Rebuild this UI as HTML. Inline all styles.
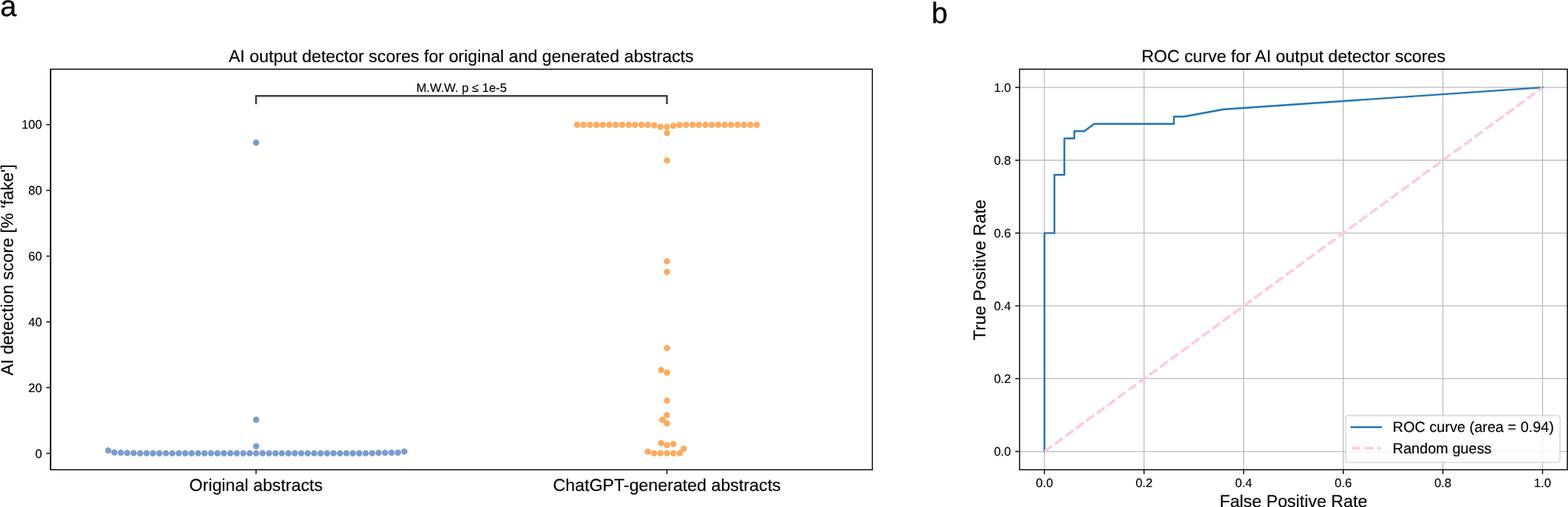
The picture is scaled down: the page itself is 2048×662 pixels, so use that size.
<!DOCTYPE html>
<html lang="en"><head><meta charset="utf-8"><title>AI output detector scores</title>
<style>
html,body{margin:0;padding:0;background:#fff;}
body{width:2048px;height:662px;overflow:hidden;}
svg{display:block;}
text{font-family:"Liberation Sans",Arial,Helvetica,sans-serif;fill:#000;text-rendering:geometricPrecision;}
.t10{font-size:16px;stroke:#000;stroke-width:0.15px;}.t12{font-size:19.2px;stroke:#000;stroke-width:0.15px;}.t14{font-size:22.4px;stroke:#000;stroke-width:0.15px;}.t24{font-size:38.4px;stroke:#000;stroke-width:0.3px;}
.sp{fill:none;stroke:#000;stroke-width:1.4;stroke-linecap:square;stroke-linejoin:miter;}
.tk{stroke:#000;stroke-width:1.4;fill:none;}
.gr{stroke:#bebebe;stroke-width:1.280;fill:none;}
.b{fill:#4172b9;fill-opacity:0.7;}.o{fill:#ff861a;fill-opacity:0.7;}
</style></head><body>
<svg width="2048" height="662" viewBox="0 0 2048 662" role="img" aria-label="Detector score swarm plot and ROC curve">
<rect x="0" y="0" width="2048" height="662" fill="#fff"/>
<text class="t24" x="0.3" y="21.2">a</text>
<text class="t24" x="1216.4" y="29.9">b</text>
<defs><radialGradient id="gb" cx="0.5" cy="0.5" r="0.5"><stop offset="0" stop-color="#4172b9" stop-opacity="0.7"/><stop offset="0.78" stop-color="#4172b9" stop-opacity="0.7"/><stop offset="1" stop-color="#4172b9" stop-opacity="0"/></radialGradient><radialGradient id="go" cx="0.5" cy="0.5" r="0.5"><stop offset="0" stop-color="#ff861a" stop-opacity="0.7"/><stop offset="0.78" stop-color="#ff861a" stop-opacity="0.7"/><stop offset="1" stop-color="#ff861a" stop-opacity="0"/></radialGradient></defs>
<g fill="url(#gb)">
<circle cx="149.29" cy="590.80" r="4.60"/>
<circle cx="157.71" cy="591.10" r="4.60"/>
<circle cx="166.13" cy="591.40" r="4.60"/>
<circle cx="174.55" cy="591.55" r="4.60"/>
<circle cx="182.97" cy="591.82" r="4.60"/>
<circle cx="191.39" cy="591.82" r="4.60"/>
<circle cx="199.81" cy="591.82" r="4.60"/>
<circle cx="208.23" cy="591.82" r="4.60"/>
<circle cx="216.65" cy="591.82" r="4.60"/>
<circle cx="225.07" cy="591.82" r="4.60"/>
<circle cx="233.49" cy="591.82" r="4.60"/>
<circle cx="241.91" cy="591.82" r="4.60"/>
<circle cx="250.33" cy="591.82" r="4.60"/>
<circle cx="258.75" cy="591.82" r="4.60"/>
<circle cx="267.17" cy="591.82" r="4.60"/>
<circle cx="275.59" cy="591.82" r="4.60"/>
<circle cx="284.01" cy="591.82" r="4.60"/>
<circle cx="292.43" cy="591.82" r="4.60"/>
<circle cx="300.85" cy="591.82" r="4.60"/>
<circle cx="309.27" cy="591.82" r="4.60"/>
<circle cx="317.69" cy="591.82" r="4.60"/>
<circle cx="326.11" cy="591.82" r="4.60"/>
<circle cx="334.53" cy="591.82" r="4.60"/>
<circle cx="342.95" cy="591.82" r="4.60"/>
<circle cx="351.37" cy="591.82" r="4.60"/>
<circle cx="359.79" cy="591.82" r="4.60"/>
<circle cx="368.21" cy="591.82" r="4.60"/>
<circle cx="376.63" cy="591.82" r="4.60"/>
<circle cx="385.05" cy="591.82" r="4.60"/>
<circle cx="393.47" cy="591.82" r="4.60"/>
<circle cx="401.89" cy="591.82" r="4.60"/>
<circle cx="410.31" cy="591.82" r="4.60"/>
<circle cx="418.73" cy="591.82" r="4.60"/>
<circle cx="427.15" cy="591.82" r="4.60"/>
<circle cx="435.57" cy="591.82" r="4.60"/>
<circle cx="443.99" cy="591.82" r="4.60"/>
<circle cx="452.41" cy="591.82" r="4.60"/>
<circle cx="460.83" cy="591.82" r="4.60"/>
<circle cx="469.25" cy="591.82" r="4.60"/>
<circle cx="477.67" cy="591.82" r="4.60"/>
<circle cx="486.09" cy="591.70" r="4.60"/>
<circle cx="494.51" cy="591.28" r="4.60"/>
<circle cx="502.93" cy="591.22" r="4.60"/>
<circle cx="511.35" cy="591.10" r="4.60"/>
<circle cx="519.77" cy="590.98" r="4.60"/>
<circle cx="141.34" cy="588.20" r="4.60"/>
<circle cx="528.14" cy="589.59" r="4.60"/>
<circle cx="334.53" cy="582.65" r="4.60"/>
<circle cx="334.53" cy="547.95" r="4.60"/>
<circle cx="334.53" cy="186.25" r="4.60"/>
</g>
<g fill="url(#go)">
<circle cx="753.70" cy="162.95" r="4.60"/>
<circle cx="762.12" cy="162.95" r="4.60"/>
<circle cx="770.54" cy="162.95" r="4.60"/>
<circle cx="778.95" cy="162.95" r="4.60"/>
<circle cx="787.37" cy="162.95" r="4.60"/>
<circle cx="795.79" cy="162.95" r="4.60"/>
<circle cx="804.21" cy="162.95" r="4.60"/>
<circle cx="812.63" cy="162.95" r="4.60"/>
<circle cx="821.05" cy="162.95" r="4.60"/>
<circle cx="829.46" cy="162.95" r="4.60"/>
<circle cx="837.88" cy="162.95" r="4.60"/>
<circle cx="846.30" cy="163.05" r="4.60"/>
<circle cx="854.60" cy="163.65" r="4.60"/>
<circle cx="862.76" cy="165.59" r="4.60"/>
<circle cx="871.10" cy="165.65" r="4.60"/>
<circle cx="879.50" cy="164.35" r="4.60"/>
<circle cx="887.70" cy="163.15" r="4.60"/>
<circle cx="896.10" cy="162.95" r="4.60"/>
<circle cx="904.50" cy="162.95" r="4.60"/>
<circle cx="912.90" cy="162.95" r="4.60"/>
<circle cx="921.30" cy="162.95" r="4.60"/>
<circle cx="929.70" cy="162.95" r="4.60"/>
<circle cx="938.10" cy="162.95" r="4.60"/>
<circle cx="946.50" cy="162.95" r="4.60"/>
<circle cx="954.90" cy="162.95" r="4.60"/>
<circle cx="963.30" cy="162.95" r="4.60"/>
<circle cx="971.70" cy="162.95" r="4.60"/>
<circle cx="980.10" cy="162.95" r="4.60"/>
<circle cx="988.50" cy="162.95" r="4.60"/>
<circle cx="871.18" cy="173.75" r="4.60"/>
<circle cx="871.18" cy="209.55" r="4.60"/>
<circle cx="871.18" cy="341.10" r="4.60"/>
<circle cx="871.18" cy="355.05" r="4.60"/>
<circle cx="871.18" cy="454.50" r="4.60"/>
<circle cx="863.60" cy="483.25" r="4.60"/>
<circle cx="871.18" cy="486.40" r="4.60"/>
<circle cx="871.18" cy="523.25" r="4.60"/>
<circle cx="871.18" cy="542.05" r="4.60"/>
<circle cx="865.06" cy="548.05" r="4.60"/>
<circle cx="871.18" cy="552.95" r="4.60"/>
<circle cx="863.40" cy="578.55" r="4.60"/>
<circle cx="871.18" cy="581.25" r="4.60"/>
<circle cx="879.50" cy="579.75" r="4.60"/>
<circle cx="893.10" cy="585.85" r="4.60"/>
<circle cx="846.20" cy="589.80" r="4.60"/>
<circle cx="854.36" cy="591.85" r="4.60"/>
<circle cx="862.60" cy="591.85" r="4.60"/>
<circle cx="871.18" cy="591.85" r="4.60"/>
<circle cx="879.50" cy="591.85" r="4.60"/>
<circle cx="887.90" cy="591.65" r="4.60"/>
</g>
<line class="tk" x1="60.50" y1="592.00" x2="66.10" y2="592.00"/>
<text class="t10" text-anchor="end" x="54.90" y="597.70">0</text>
<line class="tk" x1="60.50" y1="506.14" x2="66.10" y2="506.14"/>
<text class="t10" text-anchor="end" x="54.90" y="511.84">20</text>
<line class="tk" x1="60.50" y1="420.29" x2="66.10" y2="420.29"/>
<text class="t10" text-anchor="end" x="54.90" y="425.99">40</text>
<line class="tk" x1="60.50" y1="334.43" x2="66.10" y2="334.43"/>
<text class="t10" text-anchor="end" x="54.90" y="340.13">60</text>
<line class="tk" x1="60.50" y1="248.58" x2="66.10" y2="248.58"/>
<text class="t10" text-anchor="end" x="54.90" y="254.28">80</text>
<line class="tk" x1="60.50" y1="162.72" x2="66.10" y2="162.72"/>
<text class="t10" text-anchor="end" x="54.90" y="168.42">100</text>
<line class="tk" x1="334.43" y1="613.36" x2="334.43" y2="618.96"/>
<text class="t14" text-anchor="middle" x="334.43" y="640.55">Original abstracts</text>
<line class="tk" x1="871.08" y1="613.36" x2="871.08" y2="618.96"/>
<text class="t14" text-anchor="middle" x="871.08" y="640.55">ChatGPT-generated abstracts</text>
<rect class="sp" x="66.10" y="90.36" width="1073.30" height="523.00"/>
<line x1="66.18" y1="90.36" x2="66.18" y2="613.36" stroke="#000" stroke-width="1.65"/>
<path d="M334.43 135.90 V125.20 H871.08 V135.90" fill="none" stroke="#454545" stroke-width="2.5" stroke-linejoin="round" stroke-linecap="butt"/>
<text class="t10" text-anchor="middle" x="602.75" y="120.35">M.W.W. p ≤ 1e-5</text>
<text class="t14" text-anchor="middle" x="602.35" y="80.80">AI output detector scores for original and generated abstracts</text>
<text class="t14" text-anchor="middle" transform="translate(17.10 352.46) rotate(-90)" letter-spacing="0.03">AI detection score [% 'fake']</text>
<g class="gr">
<line x1="1364.18" y1="90.36" x2="1364.18" y2="613.36"/>
<line x1="1331.65" y1="589.52" x2="2047.20" y2="589.52"/>
<line x1="1494.28" y1="90.36" x2="1494.28" y2="613.36"/>
<line x1="1331.65" y1="494.46" x2="2047.20" y2="494.46"/>
<line x1="1624.38" y1="90.36" x2="1624.38" y2="613.36"/>
<line x1="1331.65" y1="399.39" x2="2047.20" y2="399.39"/>
<line x1="1754.47" y1="90.36" x2="1754.47" y2="613.36"/>
<line x1="1331.65" y1="304.33" x2="2047.20" y2="304.33"/>
<line x1="1884.58" y1="90.36" x2="1884.58" y2="613.36"/>
<line x1="1331.65" y1="209.26" x2="2047.20" y2="209.26"/>
<line x1="2014.68" y1="90.36" x2="2014.68" y2="613.36"/>
<line x1="1331.65" y1="114.20" x2="2047.20" y2="114.20"/>
</g>
<path d="M1364.18 589.52 L1364.18 304.33 L1377.19 304.33 L1377.19 228.28 L1390.20 228.28 L1390.20 180.74 L1403.21 180.74 L1403.21 171.24 L1416.22 171.24 L1429.23 161.73 L1533.31 161.73 L1533.31 152.23 L1546.32 152.23 L1598.36 142.72 L2014.68 114.20" fill="none" stroke="#2677b6" stroke-width="2.4" stroke-linejoin="round" stroke-linecap="square"/>
<line x1="1364.18" y1="589.62" x2="2014.68" y2="114.30" stroke="#ffc9dc" stroke-width="3.4" stroke-dasharray="12.5 4.48"/>
<line class="tk" x1="1364.18" y1="613.36" x2="1364.18" y2="618.96"/>
<text class="t10" text-anchor="middle" x="1364.18" y="636.00">0.0</text>
<line class="tk" x1="1326.05" y1="589.52" x2="1331.65" y2="589.52"/>
<text class="t10" text-anchor="end" x="1320.45" y="595.22">0.0</text>
<line class="tk" x1="1494.28" y1="613.36" x2="1494.28" y2="618.96"/>
<text class="t10" text-anchor="middle" x="1494.28" y="636.00">0.2</text>
<line class="tk" x1="1326.05" y1="494.46" x2="1331.65" y2="494.46"/>
<text class="t10" text-anchor="end" x="1320.45" y="500.16">0.2</text>
<line class="tk" x1="1624.38" y1="613.36" x2="1624.38" y2="618.96"/>
<text class="t10" text-anchor="middle" x="1624.38" y="636.00">0.4</text>
<line class="tk" x1="1326.05" y1="399.39" x2="1331.65" y2="399.39"/>
<text class="t10" text-anchor="end" x="1320.45" y="405.09">0.4</text>
<line class="tk" x1="1754.47" y1="613.36" x2="1754.47" y2="618.96"/>
<text class="t10" text-anchor="middle" x="1754.47" y="636.00">0.6</text>
<line class="tk" x1="1326.05" y1="304.33" x2="1331.65" y2="304.33"/>
<text class="t10" text-anchor="end" x="1320.45" y="310.03">0.6</text>
<line class="tk" x1="1884.58" y1="613.36" x2="1884.58" y2="618.96"/>
<text class="t10" text-anchor="middle" x="1884.58" y="636.00">0.8</text>
<line class="tk" x1="1326.05" y1="209.26" x2="1331.65" y2="209.26"/>
<text class="t10" text-anchor="end" x="1320.45" y="214.96">0.8</text>
<line class="tk" x1="2014.68" y1="613.36" x2="2014.68" y2="618.96"/>
<text class="t10" text-anchor="middle" x="2014.68" y="636.00">1.0</text>
<line class="tk" x1="1326.05" y1="114.20" x2="1331.65" y2="114.20"/>
<text class="t10" text-anchor="end" x="1320.45" y="119.90">1.0</text>
<rect x="1757.60" y="542.60" width="280.00" height="61.16" rx="3.84" ry="3.84" fill="#fff" fill-opacity="0.8" stroke="#ccc" stroke-opacity="0.7" stroke-width="1.6"/>
<line x1="1765.28" y1="557.7" x2="1803.68" y2="557.7" stroke="#2677b6" stroke-width="2.4" stroke-linecap="square"/>
<line x1="1765.28" y1="585.1" x2="1803.68" y2="585.1" stroke="#ffc9dc" stroke-width="3.2" stroke-dasharray="11.84 5.12"/>
<text class="t12" x="1819.04" y="564.3">ROC curve (area = 0.94)</text>
<text class="t12" x="1819.04" y="591.8">Random guess</text>
<rect class="sp" x="1331.65" y="90.36" width="715.55" height="523.00"/>
<text class="t14" text-anchor="middle" x="1689.43" y="80.80">ROC curve for AI output detector scores</text>
<text class="t14" text-anchor="middle" x="1689.43" y="662.10">False Positive Rate</text>
<text class="t14" text-anchor="middle" transform="translate(1287.40 352.56) rotate(-90)" letter-spacing="0.03">True Positive Rate</text>
</svg></body></html>
